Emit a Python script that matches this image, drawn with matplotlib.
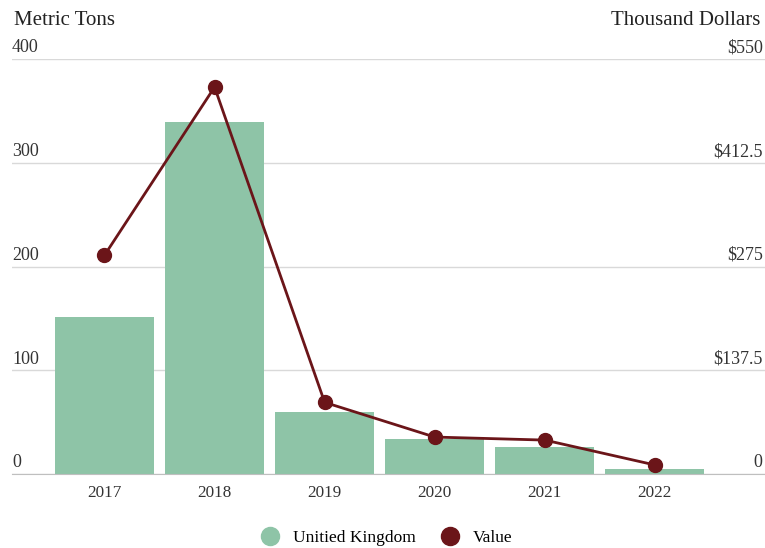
import matplotlib.pyplot as plt
from matplotlib.lines import Line2D
import matplotlib.transforms as mtransforms

plt.rcParams['font.family'] = ['Liberation Serif', 'DejaVu Serif']

# data
years = ['2017', '2018', '2019', '2020', '2021', '2022']
tons = [151, 339, 60, 34, 26, 5]
value = [290, 513, 95, 49, 45, 12]
left_ticks = [0, 100, 200, 300, 400]
right_ticks = [0, 137.5, 275, 412.5, 550]
right_labels = ['0', '$137.5', '$275', '$412.5', '$550']

bar_color = '#8ec4a7'
line_color = '#6b1519'

fig = plt.figure(figsize=(7.65, 5.48), dpi=100)
ax = fig.add_axes([0.0157, 0.135, 0.9843, 0.757])
ax2 = ax.twinx()

x = list(range(len(years)))
ax.bar(x, tons, width=0.9, color=bar_color, zorder=2)
ax.set_ylim(0, 400)
ax.set_xlim(-0.84, 6.0)
ax2.set_ylim(0, 550)
ax2.plot(x, value, color=line_color, lw=2, marker='o', ms=10, zorder=3)

for a in (ax, ax2):
    for s in a.spines.values():
        s.set_visible(False)
ax.spines['bottom'].set_visible(True)
ax.spines['bottom'].set_color('#bfbfbf')
ax.set_yticks(left_ticks)
ax.grid(axis='y', color='#d9d9d9', lw=1, zorder=0)
ax.set_axisbelow(True)
ax.tick_params(axis='y', length=0, labelleft=False)
ax2.tick_params(axis='y', length=0, labelright=False)
ax2.set_yticks([])
ax.set_xticks(x)
ax.set_xticklabels(years, fontsize=12.3, color='#333333')
ax.tick_params(axis='x', length=0, pad=8)

trans = mtransforms.blended_transform_factory(ax.transAxes, ax.transData)
trans = mtransforms.offset_copy(trans, fig=fig, y=2, units='points')
for t in left_ticks:
    ax.text(0.0, t, str(t), transform=trans, ha='left', va='bottom',
            fontsize=13, color='#333333')

trans2 = mtransforms.blended_transform_factory(ax2.transAxes, ax2.transData)
trans2 = mtransforms.offset_copy(trans2, fig=fig, y=2, units='points')
for t, lab in zip(right_ticks, right_labels):
    ax2.text(0.997, t, lab, transform=trans2, ha='right', va='bottom',
             fontsize=13, color='#333333')

fig.text(0.018, 0.962, 'Metric Tons', ha='left', va='center', fontsize=15, color='#222222')
fig.text(0.994, 0.962, 'Thousand Dollars', ha='right', va='center', fontsize=15, color='#222222')

handles = [Line2D([], [], ls='none', marker='o', ms=13, color=bar_color),
           Line2D([], [], ls='none', marker='o', ms=13, color=line_color)]
fig.legend(handles, ['Unitied Kingdom', 'Value'], loc='center', bbox_to_anchor=(0.5, 0.018),
           ncol=2, frameon=False, fontsize=12.5, handletextpad=0.3, columnspacing=1.0)

fig.savefig('out.png', dpi=100)
